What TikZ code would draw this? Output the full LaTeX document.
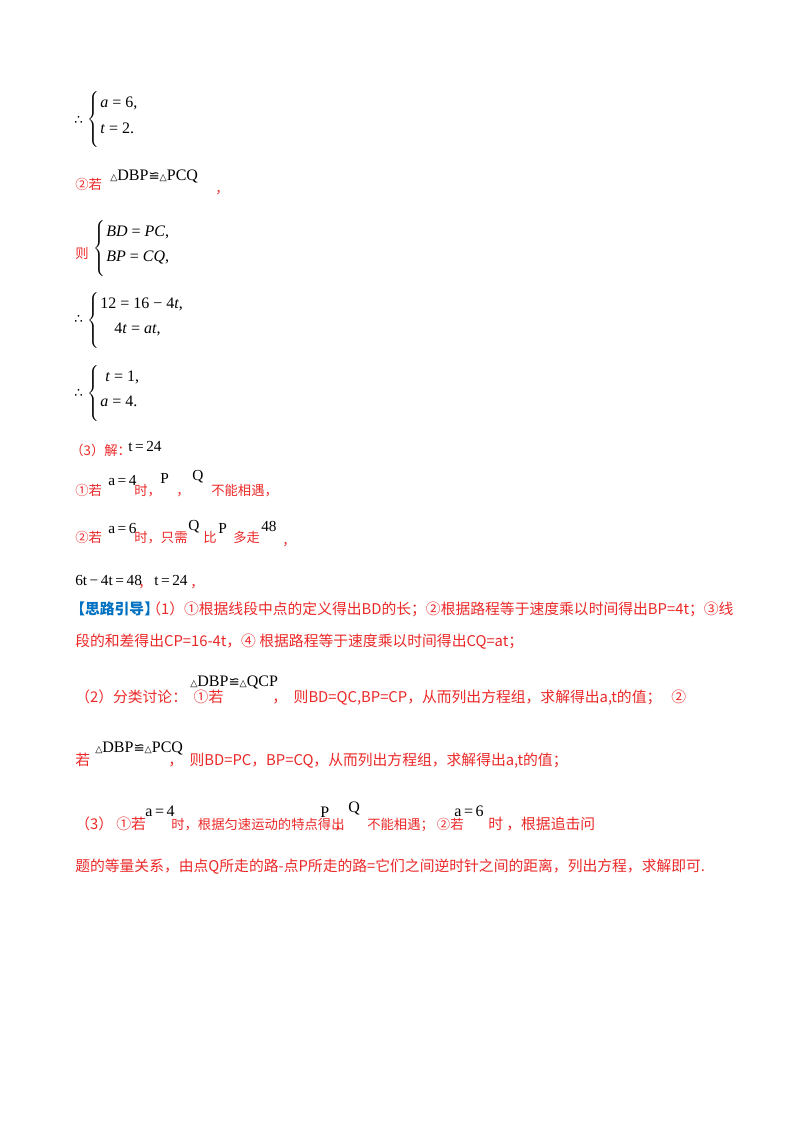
\documentclass[tikz,border=0pt]{standalone}
\usepackage{fontspec}
\setmainfont{Liberation Serif}
\newfontfamily\cjk{Noto Sans CJK SC}
\newfontfamily\dv{DejaVu Sans}
\definecolor{rd}{RGB}{235,40,40}
\definecolor{bl}{RGB}{0,112,192}
\newcommand{\tri}{{\dv\fontsize{7}{7}\selectfont △}}
\newcommand{\cg}{{\dv\fontsize{10}{10}\selectfont ≌}}
\newcommand{\I}[1]{\textit{#1}}
\newcommand{\thr}{{\dv\fontsize{10}{10}\selectfont ∴}}
\begin{document}
\begin{tikzpicture}[x=0.75pt,y=-0.75pt,
  cn/.style={anchor=base west,inner sep=0,text=rd,font=\cjk\fontsize{10}{12}\selectfont},
  gd/.style={anchor=base west,inner sep=0,text=rd,font=\cjk\fontsize{11.1}{12}\selectfont},
  mt/.style={anchor=base west,inner sep=0,font=\fontsize{12}{14}\selectfont},
  ms/.style={anchor=base west,inner sep=0,font=\fontsize{11.5}{14}\selectfont},
  br/.style={anchor=west,inner sep=0,font=\fontsize{12}{14}\selectfont}]
\useasboundingbox (0,0) rectangle (800,1132);
% system 1
\node[mt] (s1) at (74,124) {\thr};
\node[br] (b1) at (87,119) {$\left\{\vphantom{\rule{0pt}{24pt}}\right.$};
\node[mt] (s1a) at (100,107) {\I{a} = 6,};
\node[mt] (s1b) at (100,133) {\I{t} = 2.};
% 2
\node[cn] (r2) at (75,189) {②若};
\node[mt] (c2) at (110,180) {\tri DBP\cg\tri PCQ};
\node[cn] (r2c) at (215,193) {，};
\node[cn] (ze) at (75,258) {则};
\node[br] (b2) at (93,248) {$\left\{\vphantom{\rule{0pt}{24pt}}\right.$};
\node[mt] (s2a) at (106,236) {\I{BD} = \I{PC},};
\node[mt] (s2b) at (106,261) {\I{BP} = \I{CQ},};
\node[mt] (s3) at (74,323) {\thr};
\node[br] (b3) at (87,320) {$\left\{\vphantom{\rule{0pt}{24pt}}\right.$};
\node[mt] (s3a) at (100,308) {12 = 16 − 4\I{t},};
\node[mt] (s3b) at (114,333) {4\I{t} = \I{at},};
\node[mt] (s4) at (74,397) {\thr};
\node[br] (b4) at (87,393) {$\left\{\vphantom{\rule{0pt}{24pt}}\right.$};
\node[mt] (s4a) at (105,381) {\I{t} = 1,};
\node[mt] (s4b) at (100,406) {\I{a} = 4.};
% (3)
\node[cn] (p3) at (70,455) {（3）解：};
\node[ms] (p3t) at (128,451) {t\,=\,24};
\node[cn] (q1) at (75,495) {①若};
\node[ms] (q1a) at (108,485) {a\,=\,4};
\node[cn] (q1b) at (134,495) {时，};
\node[ms] (q1p) at (160,483) {P};
\node[cn] (q1c) at (176,495) {，};
\node[ms] (q1q) at (192,480) {Q};
\node[cn] (q1d) at (211,495) {不能相遇，};
\node[cn] (q2) at (75,542) {②若};
\node[ms] (q2a) at (108,533) {a\,=\,6};
\node[cn] (q2b) at (134,542) {时，只需};
\node[ms] (q2q) at (188,530) {Q};
\node[cn] (q2c) at (203,542) {比};
\node[ms] (q2p) at (218,533) {P};
\node[cn] (q2d) at (233,542) {多走};
\node[ms] (q2e) at (261,531) {48};
\node[cn] (q2f) at (282,545) {，};
\node[ms] (e1) at (75,585) {6t\,−\,4t\,=\,48};
\node[cn] (e2) at (138,587) {，};
\node[ms] (e3) at (154,585) {t\,=\,24};
\node[cn] (e4) at (190,587) {，};
% guide
\node[gd,text=bl] (g0) at (70,614) {\bfseries 【思路引导】};
\node[gd] (g1) at (146,614) {（1）①根据线段中点的定义得出BD的长；②根据路程等于速度乘以时间得出BP=4t；③线};
\node[gd] (g2) at (75,646) {段的和差得出CP=16-4t，④ 根据路程等于速度乘以时间得出CQ=at；};
\node[gd] (h1) at (75,702) {（2）分类讨论：\ \ ①若};
\node[mt] (h1m) at (190,686) {\tri DBP\cg\tri QCP};
\node[gd] (h1b) at (272,702) {，\ \ 则BD=QC,BP=CP，从而列出方程组，求解得出a,t的值；\ \ \ ②};
\node[gd] (h2) at (75,765) {若};
\node[mt] (h2m) at (95,752) {\tri DBP\cg\tri PCQ};
\node[gd] (h2b) at (168,765) {，\ \ 则BD=PC，BP=CQ，从而列出方程组，求解得出a,t的值；};
\node[gd] (k1) at (75,829) {（3）\ ①若};
\node[mt] (k1a) at (145,816) {a\,=\,4};
\node[cn] (k1b) at (171,829) {时，根据匀速运动的特点得出};
\node[mt] (k1p) at (320,817) {P};
\node[gd] (k1c) at (334,829) {，};
\node[mt] (k1q) at (348,812) {Q};
\node[cn] (k1d) at (367,829) {不能相遇；\ ②若};
\node[mt] (k1e) at (454,816) {a\,=\,6};
\node[gd] (k1f) at (488,829) {时\ ，根据追击问};
\node[gd] (k2) at (75,871) {题的等量关系，由点Q所走的路-点P所走的路=它们之间逆时针之间的距离，列出方程，求解即可.};
\end{tikzpicture}
\end{document}
